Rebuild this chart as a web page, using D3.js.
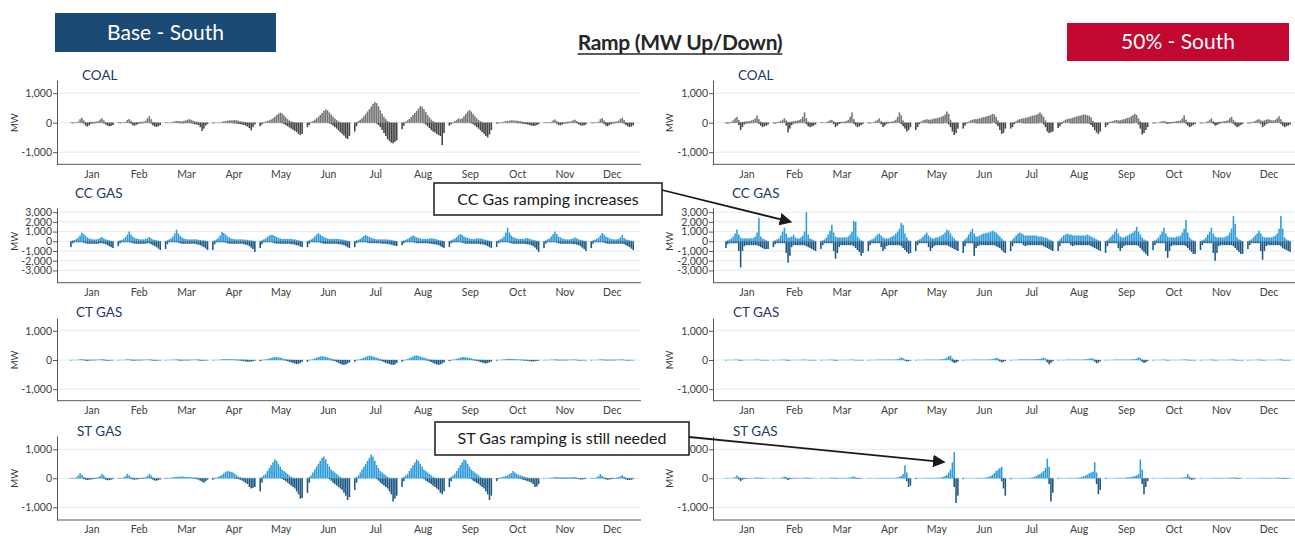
<!DOCTYPE html>
<html>
<head>
<meta charset="utf-8">
<script src="https://cdn.jsdelivr.net/npm/d3@7"></script>
<style>
  body { margin: 0; background: #fff; }
  svg { display: block; font-family: Lato, "Noto Sans", sans-serif; }
</style>
</head>
<body>
<svg id="chart" width="1295" height="536"></svg>
<script>
// ---- data ----------------------------------------------------------
const months = ["Jan","Feb","Mar","Apr","May","Jun","Jul","Aug","Sep","Oct","Nov","Dec"];
const hours = [0,1,2,3,4,5,6,7,8,9,10,11,12,13,14,15,16,17,18,19,20,21,22,23];
const ticksSmall = [-1000, 0, 1000];
const ticksCC = [-3000, -2000, -1000, 0, 1000, 2000, 3000];

// average ramp by month x hour, MW (up >= 0, down <= 0)
const coalBaseUp = [
  [0,0,0,10,40,120,170,80,20,10,20,30,30,30,40,60,110,150,80,20,0,0,0,0],
  [0,0,0,10,30,90,130,70,20,10,20,20,30,30,40,70,150,220,120,30,0,0,0,0],
  [0,0,0,10,30,50,60,60,50,50,60,80,100,120,100,70,50,40,20,10,0,0,0,0],
  [0,0,0,0,10,30,50,60,70,80,80,80,90,80,70,50,40,30,20,10,0,0,0,0],
  [0,0,20,40,60,80,110,150,200,260,300,340,320,250,180,120,80,50,30,10,0,0,0,0],
  [0,0,30,60,100,150,200,260,330,400,450,420,350,280,200,140,90,50,20,0,0,0,0,0],
  [0,20,60,100,150,220,300,380,460,550,640,700,660,560,420,300,200,120,60,20,0,0,0,0],
  [0,10,40,80,130,190,260,330,400,480,560,540,460,360,260,180,110,60,20,0,0,0,0,0],
  [0,0,20,60,100,150,120,150,220,300,380,430,380,300,220,150,90,50,20,0,0,0,0,0],
  [0,0,10,20,40,50,60,70,80,80,70,70,60,50,40,30,20,20,10,0,0,0,0,0],
  [0,0,0,10,30,80,110,60,20,10,20,20,30,30,40,50,80,100,60,20,0,0,0,0],
  [0,0,0,10,40,120,160,80,20,10,20,30,30,30,40,70,130,170,90,20,0,0,0,0]
];
const coalBaseDown = [
  [-10,-20,-10,0,0,0,0,-30,-100,-130,-90,-40,-20,-20,-10,0,0,0,-20,-60,-100,-120,-110,-80],
  [-10,-20,-10,0,0,0,0,-40,-90,-100,-70,-40,-20,-20,-10,0,0,0,-30,-90,-130,-140,-120,-80],
  [-10,-10,0,0,0,0,0,-10,-20,-20,-20,-10,-10,-10,-20,-30,-50,-60,-80,-150,-280,-200,-100,-50],
  [-20,-10,0,0,0,0,0,0,-10,-10,-10,-20,-20,-30,-40,-50,-60,-80,-100,-130,-180,-260,-150,-60],
  [-120,-60,0,0,0,0,0,0,0,0,0,0,-20,-40,-80,-120,-160,-200,-240,-280,-320,-380,-420,-380],
  [-150,-80,0,0,0,0,0,0,0,0,0,0,-20,-50,-100,-150,-200,-260,-320,-380,-440,-520,-550,-450],
  [-300,-120,0,0,0,0,0,0,0,0,0,0,-30,-80,-150,-250,-350,-450,-560,-620,-680,-700,-650,-600],
  [-220,-100,0,0,0,0,0,0,0,0,0,0,-20,-60,-120,-180,-250,-300,-330,-380,-420,-450,-760,-350],
  [-100,-50,0,0,0,0,0,0,0,0,0,0,-20,-50,-100,-150,-200,-260,-320,-380,-450,-500,-400,-250],
  [-30,-20,0,0,0,0,0,0,0,0,0,-10,-20,-20,-30,-40,-50,-60,-80,-100,-110,-100,-80,-50],
  [-10,-10,-10,0,0,0,0,-30,-80,-90,-60,-30,-20,-20,-10,0,0,0,-20,-60,-90,-100,-90,-60],
  [-10,-20,-10,0,0,0,0,-40,-100,-120,-80,-40,-20,-20,-10,0,0,0,-30,-80,-120,-150,-130,-90]
];
const coal50Up = [
  [0,0,10,30,80,150,200,90,30,30,40,50,50,60,80,100,150,250,120,40,0,0,0,0],
  [0,0,10,30,60,100,150,80,30,30,40,50,60,70,90,120,200,350,150,40,0,0,0,0],
  [0,0,0,20,50,80,100,50,20,20,30,30,30,40,60,100,200,350,120,30,0,0,0,0],
  [0,0,0,20,60,100,150,60,20,20,30,30,30,40,60,100,200,350,250,80,0,0,0,0],
  [0,0,20,40,80,100,120,100,100,120,140,150,160,180,200,230,280,380,300,100,0,0,0,0],
  [0,0,20,40,80,100,120,120,130,150,170,190,200,220,240,260,300,280,200,80,0,0,0,0],
  [0,0,20,60,100,120,140,150,160,180,200,220,240,250,270,300,350,280,200,80,0,0,0,0],
  [0,0,20,60,100,120,140,150,170,190,210,230,240,260,280,270,250,230,180,60,0,0,0,0],
  [0,0,20,40,60,80,90,80,80,100,120,140,160,180,220,260,300,260,150,50,0,0,0,0],
  [0,0,0,10,30,50,60,40,20,20,30,30,40,50,60,80,150,250,100,30,0,0,0,0],
  [0,0,0,20,50,100,150,60,20,20,30,30,40,50,60,80,150,200,100,30,0,0,0,0],
  [0,0,10,30,60,100,120,80,60,80,100,120,100,80,80,100,150,220,120,40,0,0,0,0]
];
const coal50Down = [
  [-20,-30,-10,0,0,0,0,-80,-250,-150,-60,-30,-20,-20,-10,0,0,0,-40,-100,-150,-120,-100,-60],
  [-20,-30,-10,0,0,0,0,-100,-330,-200,-80,-30,-20,-20,-10,0,0,0,-50,-120,-150,-130,-100,-60],
  [-10,-10,0,0,0,0,0,-50,-150,-100,-40,-20,-10,-10,-10,0,0,0,-40,-100,-150,-120,-80,-40],
  [-20,-20,0,0,0,0,0,-50,-150,-100,-40,-20,-10,-10,-10,0,0,0,-50,-120,-200,-300,-250,-150],
  [-250,-150,-50,0,0,0,0,-20,-30,-20,-20,-20,-20,-20,-20,-20,0,0,-60,-150,-300,-420,-350,-200],
  [-200,-100,-20,0,0,0,0,-20,-20,-20,-20,-20,-20,-20,-20,-20,0,0,-50,-120,-250,-380,-350,-200],
  [-200,-150,-50,0,0,0,0,-20,-20,-20,-20,-20,-20,-20,-20,-20,0,0,-60,-150,-300,-350,-330,-300],
  [-180,-120,-40,0,0,0,0,-20,-20,-20,-20,-20,-20,-20,-20,-20,-20,-30,-80,-150,-250,-330,-380,-300],
  [-150,-80,-20,0,0,0,0,-20,-20,-20,-20,-20,-20,-20,-20,-20,0,0,-60,-200,-400,-350,-250,-150],
  [-20,-20,0,0,0,0,0,-20,-40,-30,-20,-10,-10,-10,-10,0,0,0,-40,-100,-150,-120,-80,-40],
  [-20,-20,0,0,0,0,0,-40,-100,-80,-40,-20,-10,-10,-10,0,0,0,-40,-100,-150,-120,-80,-40],
  [-20,-20,-10,0,0,0,0,-40,-150,-100,-50,-20,-10,-10,-10,0,0,0,-40,-100,-150,-120,-100,-60]
];
const ccBaseUp = [
  [0,100,150,250,400,600,900,750,550,400,300,250,200,200,200,250,350,450,300,200,150,100,50,0],
  [0,100,150,250,450,700,1000,700,500,350,300,250,200,200,200,250,300,450,300,200,150,100,50,0],
  [0,100,200,300,500,800,1200,800,550,400,300,250,200,200,200,200,200,200,150,150,100,100,50,0],
  [0,100,200,350,600,950,850,700,500,400,300,250,200,200,200,200,200,200,150,150,100,100,50,0],
  [0,100,200,300,450,600,650,650,550,450,350,300,250,250,250,250,250,250,200,200,150,100,50,0],
  [0,100,200,300,500,700,850,700,550,450,350,300,250,250,250,250,250,250,200,200,150,100,50,0],
  [0,100,150,250,400,550,650,550,450,350,300,250,200,200,200,200,200,200,200,150,150,100,50,0],
  [0,100,150,250,350,500,600,500,400,350,300,250,250,250,250,300,300,300,250,200,150,100,50,0],
  [0,100,200,300,450,600,750,650,500,400,350,300,250,250,250,300,300,300,250,200,150,100,50,0],
  [0,100,200,300,500,900,1400,900,600,450,350,300,250,250,250,250,300,350,250,200,150,100,50,0],
  [0,100,200,300,500,750,1000,750,500,400,300,250,200,200,200,250,300,400,300,200,150,100,50,0],
  [0,100,150,250,400,600,850,700,500,400,300,250,200,200,200,250,400,650,350,200,150,100,50,0]
];
const ccBaseDown = [
  [-600,-200,-100,-100,-100,-100,-100,-150,-200,-250,-250,-250,-250,-250,-250,-250,-200,-200,-250,-300,-400,-500,-600,-700],
  [-500,-200,-100,-100,-100,-100,-100,-150,-200,-250,-250,-250,-250,-250,-250,-250,-200,-200,-300,-400,-500,-600,-750,-900],
  [-800,-300,-100,-100,-100,-100,-100,-150,-200,-250,-250,-250,-250,-250,-250,-250,-250,-300,-350,-400,-500,-600,-750,-900],
  [-900,-300,-100,-100,-100,-100,-100,-150,-200,-250,-250,-250,-250,-250,-250,-250,-250,-300,-350,-400,-500,-650,-800,-1100],
  [-700,-300,-100,-100,-100,-100,-100,-150,-200,-250,-250,-250,-250,-250,-250,-250,-250,-300,-300,-350,-400,-450,-550,-600],
  [-600,-250,-100,-100,-100,-100,-100,-150,-200,-250,-250,-250,-250,-250,-250,-250,-250,-300,-300,-350,-400,-500,-600,-700],
  [-600,-200,-100,-100,-100,-100,-100,-150,-200,-200,-200,-200,-200,-200,-200,-250,-250,-250,-300,-300,-350,-400,-450,-500],
  [-400,-200,-100,-100,-100,-100,-100,-150,-200,-200,-200,-200,-200,-200,-200,-250,-250,-300,-300,-350,-400,-500,-600,-700],
  [-600,-200,-100,-100,-100,-100,-100,-150,-200,-250,-250,-250,-250,-250,-250,-250,-250,-300,-300,-350,-400,-500,-600,-700],
  [-600,-200,-100,-100,-100,-100,-100,-150,-200,-250,-250,-250,-250,-250,-250,-250,-300,-300,-350,-400,-500,-650,-850,-1100],
  [-700,-250,-100,-100,-100,-100,-100,-150,-200,-250,-250,-250,-250,-250,-250,-250,-300,-300,-350,-400,-500,-650,-800,-1000],
  [-700,-250,-100,-100,-100,-100,-100,-150,-200,-250,-250,-250,-250,-250,-250,-250,-250,-250,-300,-400,-500,-600,-750,-900]
];
const cc50Up = [
  [0,100,200,300,500,800,1200,700,400,300,300,300,300,300,300,350,500,900,2400,500,300,200,100,0],
  [0,100,200,300,600,1000,1400,800,400,400,500,700,400,300,300,400,600,1000,3000,700,300,200,100,0],
  [0,100,200,400,700,1100,1700,900,500,400,400,400,400,400,400,500,700,1000,2100,2000,500,300,100,0],
  [0,100,200,300,500,700,800,600,400,300,300,300,400,500,600,800,1000,1300,1900,1700,800,400,100,0],
  [0,100,200,300,500,700,900,600,400,300,300,400,400,500,600,700,900,1200,1100,800,500,300,100,0],
  [0,200,400,700,1000,1300,800,500,500,600,700,800,800,900,900,1000,1100,1000,900,700,500,300,100,0],
  [0,200,400,600,800,900,800,700,600,600,600,600,600,600,600,500,500,500,400,400,300,200,100,0],
  [0,200,400,600,700,800,700,700,600,600,600,600,600,600,600,600,700,600,500,400,300,200,100,0],
  [0,100,300,500,700,1000,1300,800,500,400,400,500,600,700,800,900,1100,1500,1000,700,400,200,100,0],
  [0,100,200,400,700,1000,1400,800,500,400,400,400,400,500,500,600,900,1300,2200,900,400,200,100,0],
  [0,100,200,400,700,1000,1400,800,500,400,400,400,400,400,500,600,900,1300,2600,1800,400,200,100,0],
  [0,100,200,400,600,800,1100,800,500,400,400,400,400,400,500,600,800,1300,2600,1300,400,200,100,0]
];
const cc50Down = [
  [-700,-300,-200,-200,-200,-200,-200,-1000,-2700,-1000,-500,-400,-400,-400,-400,-400,-400,-400,-500,-600,-700,-800,-800,-800],
  [-600,-300,-200,-200,-200,-200,-200,-1200,-2200,-1500,-600,-400,-400,-400,-400,-400,-400,-400,-500,-600,-700,-800,-900,-1000],
  [-800,-400,-200,-200,-200,-200,-200,-1000,-1800,-1200,-600,-400,-400,-400,-400,-400,-400,-400,-500,-700,-900,-1100,-1500,-1200],
  [-1000,-400,-200,-200,-200,-200,-200,-600,-1000,-800,-500,-400,-400,-400,-400,-400,-400,-400,-500,-700,-900,-1100,-1300,-1200],
  [-1000,-400,-200,-200,-200,-200,-200,-600,-1000,-700,-500,-400,-400,-400,-400,-400,-400,-400,-500,-600,-700,-800,-900,-1000],
  [-1200,-500,-200,-200,-200,-200,-1500,-700,-500,-400,-400,-400,-400,-400,-400,-400,-400,-400,-500,-600,-700,-900,-1100,-1200],
  [-1000,-500,-200,-200,-200,-200,-200,-400,-500,-400,-400,-400,-400,-400,-400,-400,-400,-400,-500,-600,-700,-800,-900,-1000],
  [-1000,-500,-200,-200,-200,-200,-200,-400,-500,-400,-400,-400,-400,-400,-400,-400,-400,-400,-500,-600,-700,-800,-900,-1000],
  [-1200,-500,-200,-200,-200,-200,-200,-700,-1000,-700,-500,-400,-400,-400,-400,-400,-400,-400,-500,-700,-900,-1100,-1300,-1500],
  [-900,-400,-200,-200,-200,-200,-200,-1000,-1700,-1000,-500,-400,-400,-400,-400,-400,-400,-400,-500,-700,-900,-1100,-1300,-1300],
  [-900,-400,-200,-200,-200,-200,-200,-1200,-2000,-1200,-500,-400,-400,-400,-400,-400,-400,-400,-500,-700,-900,-1100,-1300,-1300],
  [-800,-400,-200,-200,-200,-200,-200,-1000,-1900,-1000,-500,-400,-400,-400,-400,-400,-400,-400,-500,-700,-800,-900,-1000,-1100]
];
const ctBaseUp = [
  [0,0,0,0,10,20,30,20,10,10,10,10,10,10,10,10,20,30,20,10,0,0,0,0],
  [0,0,0,0,10,20,20,20,10,10,10,10,10,10,10,10,20,20,20,10,0,0,0,0],
  [0,0,0,0,10,10,20,20,10,10,10,10,10,10,10,10,10,20,20,10,0,0,0,0],
  [0,0,0,0,10,20,30,30,30,30,30,30,20,20,20,20,20,20,10,10,0,0,0,0],
  [0,0,10,20,30,50,70,90,100,100,90,80,60,40,30,20,10,10,0,0,0,0,0,0],
  [0,0,10,30,50,80,100,120,130,120,110,90,70,50,30,20,10,10,0,0,0,0,0,0],
  [0,0,10,30,50,80,100,130,150,140,120,100,80,60,40,20,10,10,0,0,0,0,0,0],
  [0,0,10,30,60,90,120,150,160,140,120,100,80,60,40,20,10,10,0,0,0,0,0,0],
  [0,0,10,20,40,60,80,100,100,90,80,70,60,40,30,20,10,10,0,0,0,0,0,0],
  [0,0,0,10,20,30,40,40,40,40,30,30,20,20,20,10,10,10,0,0,0,0,0,0],
  [0,0,0,0,10,10,20,20,10,10,10,10,10,10,10,10,10,20,10,0,0,0,0,0],
  [0,0,0,0,10,20,20,20,10,10,10,10,10,10,10,10,20,20,10,0,0,0,0,0]
];
const ctBaseDown = [
  [-10,0,0,0,0,0,0,-10,-20,-30,-20,-10,-10,-10,0,0,0,0,-10,-20,-20,-20,-10,-10],
  [-10,0,0,0,0,0,0,-10,-20,-20,-10,-10,-10,-10,0,0,0,0,-10,-20,-20,-20,-10,-10],
  [-10,0,0,0,0,0,0,-10,-20,-20,-10,-10,-10,-10,0,0,0,0,-10,-20,-20,-20,-10,-10],
  [-10,0,0,0,0,0,0,0,0,0,0,0,0,-10,-10,-20,-30,-40,-50,-60,-60,-50,-40,-20],
  [-40,-10,0,0,0,0,0,0,0,0,0,0,0,-10,-20,-40,-60,-80,-100,-120,-140,-130,-100,-60],
  [-60,-10,0,0,0,0,0,0,0,0,0,0,0,-10,-20,-40,-70,-100,-130,-160,-170,-150,-120,-80],
  [-60,-10,0,0,0,0,0,0,0,0,0,0,0,-10,-20,-40,-70,-100,-120,-140,-160,-170,-150,-100],
  [-60,-10,0,0,0,0,0,0,0,0,0,0,0,-10,-20,-40,-70,-100,-130,-150,-170,-150,-120,-80],
  [-40,-10,0,0,0,0,0,0,0,0,0,0,0,-10,-20,-30,-50,-70,-90,-110,-120,-100,-80,-50],
  [-20,0,0,0,0,0,0,0,0,0,0,0,0,-10,-10,-20,-20,-30,-40,-50,-50,-40,-30,-20],
  [-10,0,0,0,0,0,0,-10,-10,-10,-10,-10,-10,-10,0,0,0,0,-10,-10,-20,-10,-10,-10],
  [-10,0,0,0,0,0,0,-10,-10,-10,-10,-10,-10,-10,0,0,0,0,-10,-10,-20,-10,-10,-10]
];
const ct50Up = [
  [0,0,0,0,0,10,10,10,0,0,0,0,0,0,0,0,10,10,10,0,0,0,0,0],
  [0,0,0,0,0,10,10,10,0,0,0,0,0,0,0,0,10,10,10,0,0,0,0,0],
  [0,0,0,0,0,10,10,10,0,0,0,0,0,0,0,0,10,10,10,0,0,0,0,0],
  [0,0,0,0,0,10,10,10,10,10,10,10,10,10,10,20,30,50,90,60,20,0,0,0],
  [0,0,0,0,0,10,10,10,10,10,10,10,10,20,20,30,50,80,130,150,60,10,0,0],
  [0,0,0,0,0,10,10,10,10,10,10,10,10,10,20,20,30,50,70,60,20,0,0,0],
  [0,0,0,0,10,20,20,20,20,20,20,20,20,20,30,30,40,60,80,50,20,0,0,0],
  [0,0,0,0,0,10,10,10,10,10,10,10,10,10,20,20,30,50,60,50,20,0,0,0],
  [0,0,0,0,0,10,10,10,10,10,10,10,10,10,20,20,30,50,90,70,20,0,0,0],
  [0,0,0,0,0,10,10,10,0,0,0,0,0,0,0,0,10,10,20,10,0,0,0,0],
  [0,0,0,0,0,10,10,10,0,0,0,0,0,0,0,0,10,10,20,10,0,0,0,0],
  [0,0,0,0,0,10,10,10,0,0,0,0,0,0,0,0,10,10,20,10,0,0,0,0]
];
const ct50Down = [
  [-10,0,0,0,0,0,0,-10,-20,-10,0,0,0,0,0,0,0,0,0,-10,-10,-10,-10,-10],
  [-10,0,0,0,0,0,0,-10,-20,-10,0,0,0,0,0,0,0,0,0,-10,-10,-10,-10,-10],
  [-10,0,0,0,0,0,0,-10,-20,-10,0,0,0,0,0,0,0,0,0,-10,-10,-10,-10,-10],
  [-10,0,0,0,0,0,0,0,0,0,0,0,0,0,0,0,0,0,0,0,-20,-50,-40,-20],
  [-10,0,0,0,0,0,0,0,0,0,0,0,0,0,0,0,0,0,0,-10,-60,-100,-90,-50],
  [-10,0,0,0,0,0,0,0,0,0,0,0,0,0,0,0,0,0,0,-10,-50,-80,-60,-30],
  [-10,0,0,0,0,0,0,0,0,0,0,0,0,0,0,0,0,0,0,-10,-80,-150,-100,-40],
  [-10,0,0,0,0,0,0,0,0,0,0,0,0,0,0,0,0,0,0,-10,-60,-110,-90,-40],
  [-10,0,0,0,0,0,0,0,0,0,0,0,0,0,0,0,0,0,0,-10,-60,-100,-80,-30],
  [-10,0,0,0,0,0,0,-10,-10,-10,0,0,0,0,0,0,0,0,0,-10,-10,-10,-10,-10],
  [-10,0,0,0,0,0,0,-10,-10,-10,0,0,0,0,0,0,0,0,0,-10,-10,-10,-10,-10],
  [-10,0,0,0,0,0,0,-10,-10,-10,0,0,0,0,0,0,0,0,0,-10,-10,-10,-10,-10]
];
const stBaseUp = [
  [0,0,10,40,100,180,120,50,20,10,10,10,10,10,20,40,80,150,100,30,0,0,0,0],
  [0,0,10,30,80,150,100,40,20,10,10,10,10,10,20,40,80,150,100,30,0,0,0,0],
  [0,0,10,20,40,50,50,50,60,60,60,50,50,40,40,30,30,20,10,0,0,0,0,0],
  [0,0,20,50,80,120,170,220,250,240,220,200,150,100,60,40,20,10,0,0,0,0,0,0],
  [0,50,100,150,250,350,450,550,650,600,500,400,300,250,200,150,100,50,20,0,0,0,0,0],
  [0,50,100,200,300,400,500,600,700,750,650,500,400,300,250,200,150,100,50,0,0,0,0,0],
  [0,50,100,200,300,400,500,600,700,820,750,600,450,350,250,200,150,100,50,0,0,0,0,0],
  [0,50,100,150,250,350,450,550,650,600,500,400,300,250,200,150,100,50,20,0,0,0,0,0],
  [0,50,100,150,250,350,450,550,650,620,500,400,300,250,200,150,100,50,20,0,0,0,0,0],
  [0,0,20,40,60,80,100,140,180,250,200,150,120,100,80,60,40,20,0,0,0,0,0,0],
  [0,0,0,10,20,30,40,40,30,30,30,30,30,30,30,30,40,40,20,0,0,0,0,0],
  [0,0,10,30,80,150,80,40,20,10,10,10,10,10,20,40,70,110,60,20,0,0,0,0]
];
const stBaseDown = [
  [-10,-10,0,0,0,0,0,-30,-50,-60,-50,-40,-30,-20,-10,0,0,0,-20,-50,-70,-60,-50,-30],
  [-10,-10,0,0,0,0,0,-30,-40,-50,-40,-30,-20,-20,-10,0,0,0,-20,-50,-80,-80,-60,-40],
  [-20,-10,0,0,0,0,0,0,0,0,0,0,0,0,0,-10,-20,-30,-50,-80,-120,-150,-100,-50],
  [-50,-20,0,0,0,0,0,0,0,0,0,0,-10,-20,-30,-50,-80,-120,-160,-200,-300,-350,-330,-300],
  [-450,-150,0,0,0,0,0,0,0,0,0,0,-20,-60,-100,-150,-200,-250,-300,-350,-450,-550,-700,-680],
  [-500,-150,0,0,0,0,0,0,0,0,0,0,-30,-80,-150,-200,-250,-300,-350,-400,-500,-600,-750,-650],
  [-400,-150,0,0,0,0,0,0,0,0,0,0,-30,-80,-150,-200,-250,-300,-350,-450,-550,-800,-700,-600],
  [-300,-100,0,0,0,0,0,0,0,0,0,0,-30,-80,-120,-160,-200,-250,-300,-350,-400,-500,-550,-450],
  [-300,-100,0,0,0,0,0,0,0,0,0,0,-30,-80,-120,-160,-200,-250,-300,-350,-450,-550,-750,-600],
  [-100,-30,0,0,0,0,0,0,0,0,0,0,-10,-20,-40,-60,-80,-100,-120,-150,-200,-300,-280,-200],
  [-10,0,0,0,0,0,0,-10,-10,-10,-10,-10,-10,-10,-10,-10,-10,-10,-20,-30,-40,-40,-30,-20],
  [-10,-10,0,0,0,0,0,-20,-40,-50,-40,-30,-20,-10,-10,0,0,0,-20,-40,-60,-60,-50,-30]
];
const st50Up = [
  [0,0,0,0,10,40,100,50,20,10,10,10,10,10,10,10,20,30,20,10,0,0,0,0],
  [0,0,0,0,10,30,60,40,20,10,10,10,10,10,10,10,10,20,20,10,0,0,0,0],
  [0,0,0,0,0,10,20,20,10,10,10,10,10,10,10,20,30,50,60,30,10,0,0,0],
  [0,0,0,0,0,10,10,10,10,10,10,10,10,10,10,20,30,50,80,150,450,200,0,0],
  [0,0,0,0,0,10,10,10,10,10,10,10,20,20,30,50,80,120,200,300,550,900,0,0],
  [0,0,0,0,0,0,0,10,10,10,10,10,20,30,50,80,120,180,250,300,350,400,0,0],
  [0,0,0,0,0,0,10,10,10,10,10,20,30,50,80,120,150,200,250,350,680,400,0,0],
  [0,0,0,0,0,0,10,10,10,10,10,20,30,50,70,100,130,170,200,230,550,200,0,0],
  [0,0,0,0,0,0,10,10,10,10,10,20,30,40,50,60,80,100,150,650,300,0,0,0],
  [0,0,0,0,0,0,10,10,10,10,10,10,10,10,10,10,20,30,50,150,60,0,0,0],
  [0,0,0,0,0,0,10,10,10,10,10,10,10,10,10,10,20,20,30,20,10,0,0,0],
  [0,0,0,0,0,0,10,10,10,10,10,10,10,10,10,10,20,20,20,10,0,0,0,0]
];
const st50Down = [
  [-10,0,0,0,0,0,0,-40,-100,-50,-20,-10,0,0,0,0,0,0,0,-10,-10,-10,0,0],
  [-10,0,0,0,0,0,0,-20,-60,-30,-10,-10,0,0,0,0,0,0,0,-10,-10,-10,0,0],
  [-10,0,0,0,0,0,0,0,-10,-10,0,0,0,0,0,0,0,0,0,-10,-20,-20,-10,0],
  [-10,0,0,0,0,0,0,0,0,0,0,0,0,0,0,0,0,0,0,0,0,-100,-300,-250],
  [-30,0,0,0,0,0,0,0,0,0,0,0,0,0,0,0,0,0,0,0,0,-300,-850,-600],
  [-30,0,0,0,0,0,0,0,0,0,0,0,0,0,0,0,0,0,0,0,0,-100,-350,-600],
  [-30,0,0,0,0,0,0,0,0,0,0,0,0,0,0,0,0,0,0,0,0,-200,-800,-500],
  [-20,0,0,0,0,0,0,0,0,0,0,0,0,0,0,0,0,0,0,0,0,-200,-550,-400],
  [-20,0,0,0,0,0,0,0,0,0,0,0,0,0,0,0,0,0,0,0,-200,-550,-300,-100],
  [-10,0,0,0,0,0,0,0,0,0,0,0,0,0,0,0,0,0,0,0,-30,-50,-40,-20],
  [-10,0,0,0,0,0,0,0,0,0,0,0,0,0,0,0,0,0,0,-10,-20,-20,-10,0],
  [-10,0,0,0,0,0,0,0,0,0,0,0,0,0,0,0,0,0,0,-10,-20,-20,-10,0]
];

// ---- layout --------------------------------------------------------
const W = 1295, H = 536;
const svg = d3.select("#chart").attr("width", W).attr("height", H);

const cols = [
  { axisX: 57,  x0: 70.2,  x1: 634,    right: 641,  mwX: 15,  titleX: [82, 75, 76, 77] },
  { axisX: 713, x0: 725.2, x1: 1290.8, right: 1295, mwX: 670, titleX: [738, 732, 733, 733] }
];
const rows = [
  { name: "COAL",   zero: 122.7, top: 80,  bottom: 164.3, per1k: 29.5, ticks: ticksSmall, titleY: 80 },
  { name: "CC GAS", zero: 241.3, top: 208, bottom: 282.7, per1k: 9.7,  ticks: ticksCC,    titleY: 198 },
  { name: "CT GAS", zero: 360,   top: 318, bottom: 400.7, per1k: 29.2, ticks: ticksSmall, titleY: 317 },
  { name: "ST GAS", zero: 478.3, top: 436, bottom: 520,   per1k: 29,   ticks: ticksSmall, titleY: 436 }
];
const palette = {
  coal: { up: "#757575", down: "#454545", base: "#c8c8c8" },
  gas:  { up: "#2d9cdb", down: "#1d5884", base: "#b9dcf0" }
};

const panels = [
  { row: 0, col: 0, up: coalBaseUp, down: coalBaseDown, pal: "coal" },
  { row: 0, col: 1, up: coal50Up,   down: coal50Down,   pal: "coal" },
  { row: 1, col: 0, up: ccBaseUp,   down: ccBaseDown,   pal: "gas" },
  { row: 1, col: 1, up: cc50Up,     down: cc50Down,     pal: "gas" },
  { row: 2, col: 0, up: ctBaseUp,   down: ctBaseDown,   pal: "gas" },
  { row: 2, col: 1, up: ct50Up,     down: ct50Down,     pal: "gas" },
  { row: 3, col: 0, up: stBaseUp,   down: stBaseDown,   pal: "gas" },
  { row: 3, col: 1, up: st50Up,     down: st50Down,     pal: "gas" }
];

const fmt = v => d3.format(",")(v).replace("\u2212", "-");
const scales = {};

panels.forEach(p => {
  const r = rows[p.row], c = cols[p.col], pal = palette[p.pal];
  const x = d3.scaleBand().domain(months).range([c.x0, c.x1]).paddingInner(0.08);
  const xh = d3.scaleBand().domain(hours).range([0, x.bandwidth()]).paddingInner(0.15);
  const y = d3.scaleLinear()
    .domain([-(r.bottom - r.zero) / r.per1k * 1000, (r.zero - r.top) / r.per1k * 1000])
    .range([r.bottom, r.top]);
  scales[p.row + "-" + p.col] = { x, xh, y };

  const g = svg.append("g");

  // grid
  g.selectAll(".grid").data(r.ticks).join("line")
    .attr("x1", c.axisX).attr("x2", c.right)
    .attr("y1", d => y(d)).attr("y2", d => y(d))
    .attr("stroke", "#e3ebee").attr("stroke-width", 1);

  // bars
  months.forEach((m, mi) => {
    const mg = g.append("g").attr("transform", `translate(${x(m)},0)`);
    mg.append("rect").attr("x", 0).attr("width", x.bandwidth())
      .attr("y", y(0) - 0.6).attr("height", 1.2).attr("fill", pal.base);
    mg.selectAll(".up").data(p.up[mi]).join("rect")
      .attr("x", (d, i) => xh(i)).attr("width", xh.bandwidth())
      .attr("y", d => y(d)).attr("height", d => y(0) - y(d))
      .attr("fill", pal.up);
    mg.selectAll(".dn").data(p.down[mi]).join("rect")
      .attr("x", (d, i) => xh(i)).attr("width", xh.bandwidth())
      .attr("y", y(0)).attr("height", d => y(d) - y(0))
      .attr("fill", pal.down);
  });

  // y axis
  const ya = g.append("g").attr("transform", `translate(${c.axisX},0)`)
    .call(d3.axisLeft(y).tickValues(r.ticks).tickFormat(fmt).tickSize(4).tickSizeOuter(0));
  ya.select(".domain").attr("stroke", "#595959");
  ya.selectAll(".tick line").attr("stroke", "#595959");
  ya.selectAll("text").attr("fill", "#404040").style("font-size", "10.5px")
    .style("font-family", "Lato, 'Noto Sans', sans-serif").attr("x", -5);

  // x axis (month labels only)
  const xa = g.append("g").attr("transform", `translate(0,${r.bottom})`)
    .call(d3.axisBottom(x).tickSize(0).tickPadding(6));
  xa.select(".domain").remove();
  g.append("line").attr("x1", c.axisX).attr("x2", c.right)
    .attr("y1", r.bottom).attr("y2", r.bottom).attr("stroke", "#595959");
  xa.selectAll("text").attr("fill", "#404040").style("font-size", "10.5px")
    .style("font-family", "Lato, 'Noto Sans', sans-serif");

  // panel title
  g.append("text").attr("x", c.titleX[p.row]).attr("y", r.titleY)
    .attr("fill", "#1f3864").style("font-size", "13.5px").text(r.name);

  // MW label
  g.append("text")
    .attr("transform", `translate(${c.mwX},${r.zero}) rotate(-90)`)
    .attr("text-anchor", "middle").attr("dy", "0.35em")
    .attr("fill", "#333").style("font-size", "9.5px").text("MW");
});

// ---- header --------------------------------------------------------
svg.append("rect").attr("x", 55).attr("y", 13).attr("width", 221).attr("height", 39).attr("fill", "#1b4a74");
svg.append("text").attr("x", 165.5).attr("y", 33).attr("text-anchor", "middle").attr("dy", "0.35em")
  .attr("fill", "#fff").style("font-size", "21px").text("Base - South");

svg.append("rect").attr("x", 1067).attr("y", 23).attr("width", 222).attr("height", 38).attr("fill", "#c2082f");
svg.append("text").attr("x", 1178).attr("y", 42).attr("text-anchor", "middle").attr("dy", "0.35em")
  .attr("fill", "#fff").style("font-size", "21px").text("50% - South");

const title = svg.append("text").attr("x", 680).attr("y", 50).attr("text-anchor", "middle")
  .attr("fill", "#262626").style("font-size", "21px").style("font-weight", "700")
  .style("letter-spacing", "-0.3px")
  .text("Ramp (MW Up/Down)");
const tb = title.node().getBBox();
svg.append("line").attr("x1", tb.x).attr("x2", tb.x + tb.width)
  .attr("y1", 54).attr("y2", 54).attr("stroke", "#262626").attr("stroke-width", 1.5);

// ---- annotations ---------------------------------------------------
svg.append("defs").append("marker").attr("id", "arrow")
  .attr("viewBox", "0 0 10 10").attr("refX", 9).attr("refY", 5)
  .attr("markerWidth", 7).attr("markerHeight", 7).attr("orient", "auto")
  .append("path").attr("d", "M0,0 L10,5 L0,10 z").attr("fill", "#1a1a1a");

function callout(text, bx, by, bw, bh, sx, sy, target) {
  const s = scales[target.panel];
  const tx = s.x(target.month) + s.xh(target.hour);
  const ty = s.y(target.value);
  svg.append("line").attr("x1", sx).attr("y1", sy).attr("x2", tx).attr("y2", ty)
    .attr("stroke", "#1a1a1a").attr("stroke-width", 1.8).attr("marker-end", "url(#arrow)");
  svg.append("rect").attr("x", bx).attr("y", by).attr("width", bw).attr("height", bh)
    .attr("fill", "#fff").attr("stroke", "#1a1a1a").attr("stroke-width", 1.5);
  svg.append("text").attr("x", bx + bw / 2).attr("y", by + bh / 2).attr("dy", "0.35em")
    .attr("text-anchor", "middle").attr("fill", "#1a1a1a").style("font-size", "16px").text(text);
}
callout("CC Gas ramping increases", 434, 183, 228, 32, 662, 190,
  { panel: "1-1", month: "Feb", hour: 10, value: 2000 });
callout("ST Gas ramping is still needed", 435, 422, 254, 33, 689, 437,
  { panel: "3-1", month: "May", hour: 16, value: 560 });
</script>
</body>
</html>
